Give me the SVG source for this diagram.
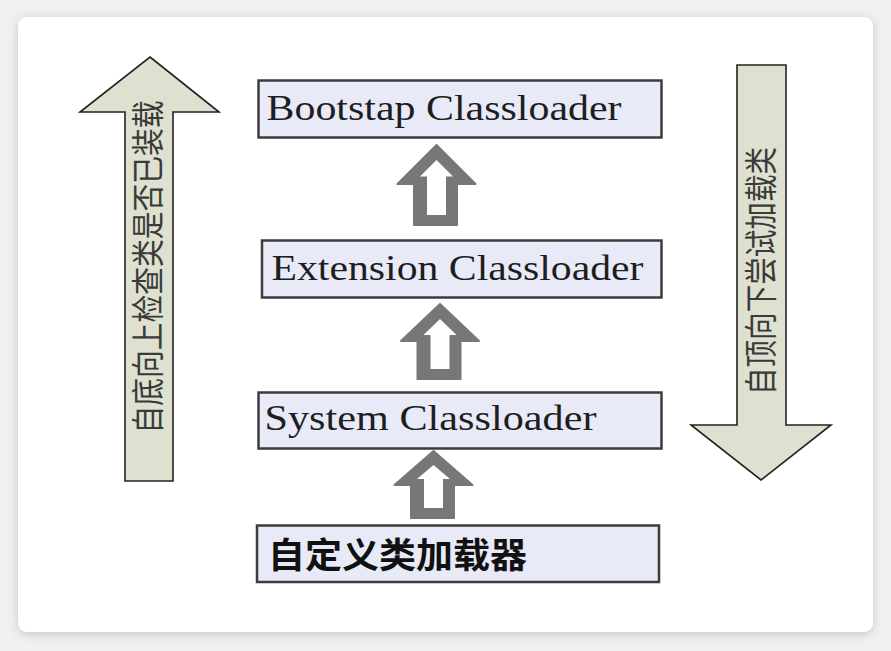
<svg xmlns="http://www.w3.org/2000/svg" width="891" height="651" viewBox="0 0 891 651">
<defs>
<filter id="sh" x="-5%" y="-5%" width="110%" height="110%">
<feDropShadow dx="0" dy="2" stdDeviation="5" flood-color="#000" flood-opacity="0.18"/>
</filter>
<style>
.box{fill:#e8eaf7;stroke:#3c3c3c;stroke-width:2.5}
.bsh{fill:none;stroke:#777;stroke-width:1.5}
.lbl{font-family:"Liberation Serif","Times New Roman",serif;font-size:36px;fill:#1e1e1e}
.cjk{font-family:"Noto Sans CJK SC",sans-serif;font-weight:bold;font-size:35px;fill:#111}
.big{fill:#dee0d0;stroke:#222;stroke-width:1.6;stroke-linejoin:miter}
.vt{font-family:"Noto Sans CJK SC",sans-serif;font-size:33px;fill:#3a3a3a}
.ho{fill:#777;stroke:#777;stroke-width:2;stroke-linejoin:round}
.hi{fill:#fff}
</style>
</defs>
<rect width="891" height="651" fill="#f0f0f0"/>
<rect x="18" y="17" width="855" height="615" rx="9" fill="#fff" filter="url(#sh)"/>

<g id="connectors">
<g id="up1"><path class="ho" d="M436.5,145 L475.5,184 L457,184 L457,225 L414,225 L414,184 L397.5,184 Z"/><path class="hi" d="M436.5,160 L453,176.5 L446,176.5 L446,215 L427,215 L427,176.5 L420,176.5 Z"/></g>
<g id="up2"><path class="ho" d="M440,304 L479,341 L460.5,341 L460.5,379 L417.5,379 L417.5,341 L401,341 Z"/><path class="hi" d="M440,319 L456.5,335 L449.5,335 L449.5,369 L430.5,369 L430.5,335 L423.5,335 Z"/></g>
<g id="up3"><path class="ho" d="M433.5,451 L472.5,485 L454,485 L454,518 L411,518 L411,485 L394.5,485 Z"/><path class="hi" d="M433.5,465 L450,479 L443,479 L443,508 L424,508 L424,479 L417,479 Z"/></g>
</g>

<g id="left-arrow">
<path class="big" d="M150,57 L219,112 L173,112 L173,481 L125,481 L125,112 L80,112 Z"/>
<text class="vt" transform="translate(146,267) rotate(-90)" text-anchor="middle" dominant-baseline="central" textLength="333" lengthAdjust="spacingAndGlyphs">自底向上检查类是否已装载</text>
</g>

<g id="right-arrow">
<path class="big" d="M737,65 L786,65 L786,425 L831,425 L761,480 L691,425 L737,425 Z"/>
<text class="vt" transform="translate(759,271) rotate(-90)" text-anchor="middle" dominant-baseline="central" textLength="248" lengthAdjust="spacingAndGlyphs">自顶向下尝试加载类</text>
</g>

<g id="bootstrap">
<rect class="box" x="258.5" y="80.5" width="403" height="57"/>
<text class="lbl" x="266.5" y="119.5" textLength="355" lengthAdjust="spacingAndGlyphs">Bootstap Classloader</text>
</g>
<g id="extension">
<rect class="box" x="262" y="240.5" width="399.5" height="57"/>
<text class="lbl" x="271.5" y="279.5" textLength="372" lengthAdjust="spacingAndGlyphs">Extension Classloader</text>
</g>
<g id="system">
<rect class="box" x="258.5" y="392.5" width="403" height="56"/>
<text class="lbl" x="264.5" y="429.5" textLength="332" lengthAdjust="spacingAndGlyphs">System Classloader</text>
</g>
<g id="custom">
<rect class="box" x="257" y="525.5" width="402" height="56.5"/>
<text class="cjk" x="268" y="568" textLength="259" lengthAdjust="spacingAndGlyphs">自定义类加载器</text>
</g>
</svg>
